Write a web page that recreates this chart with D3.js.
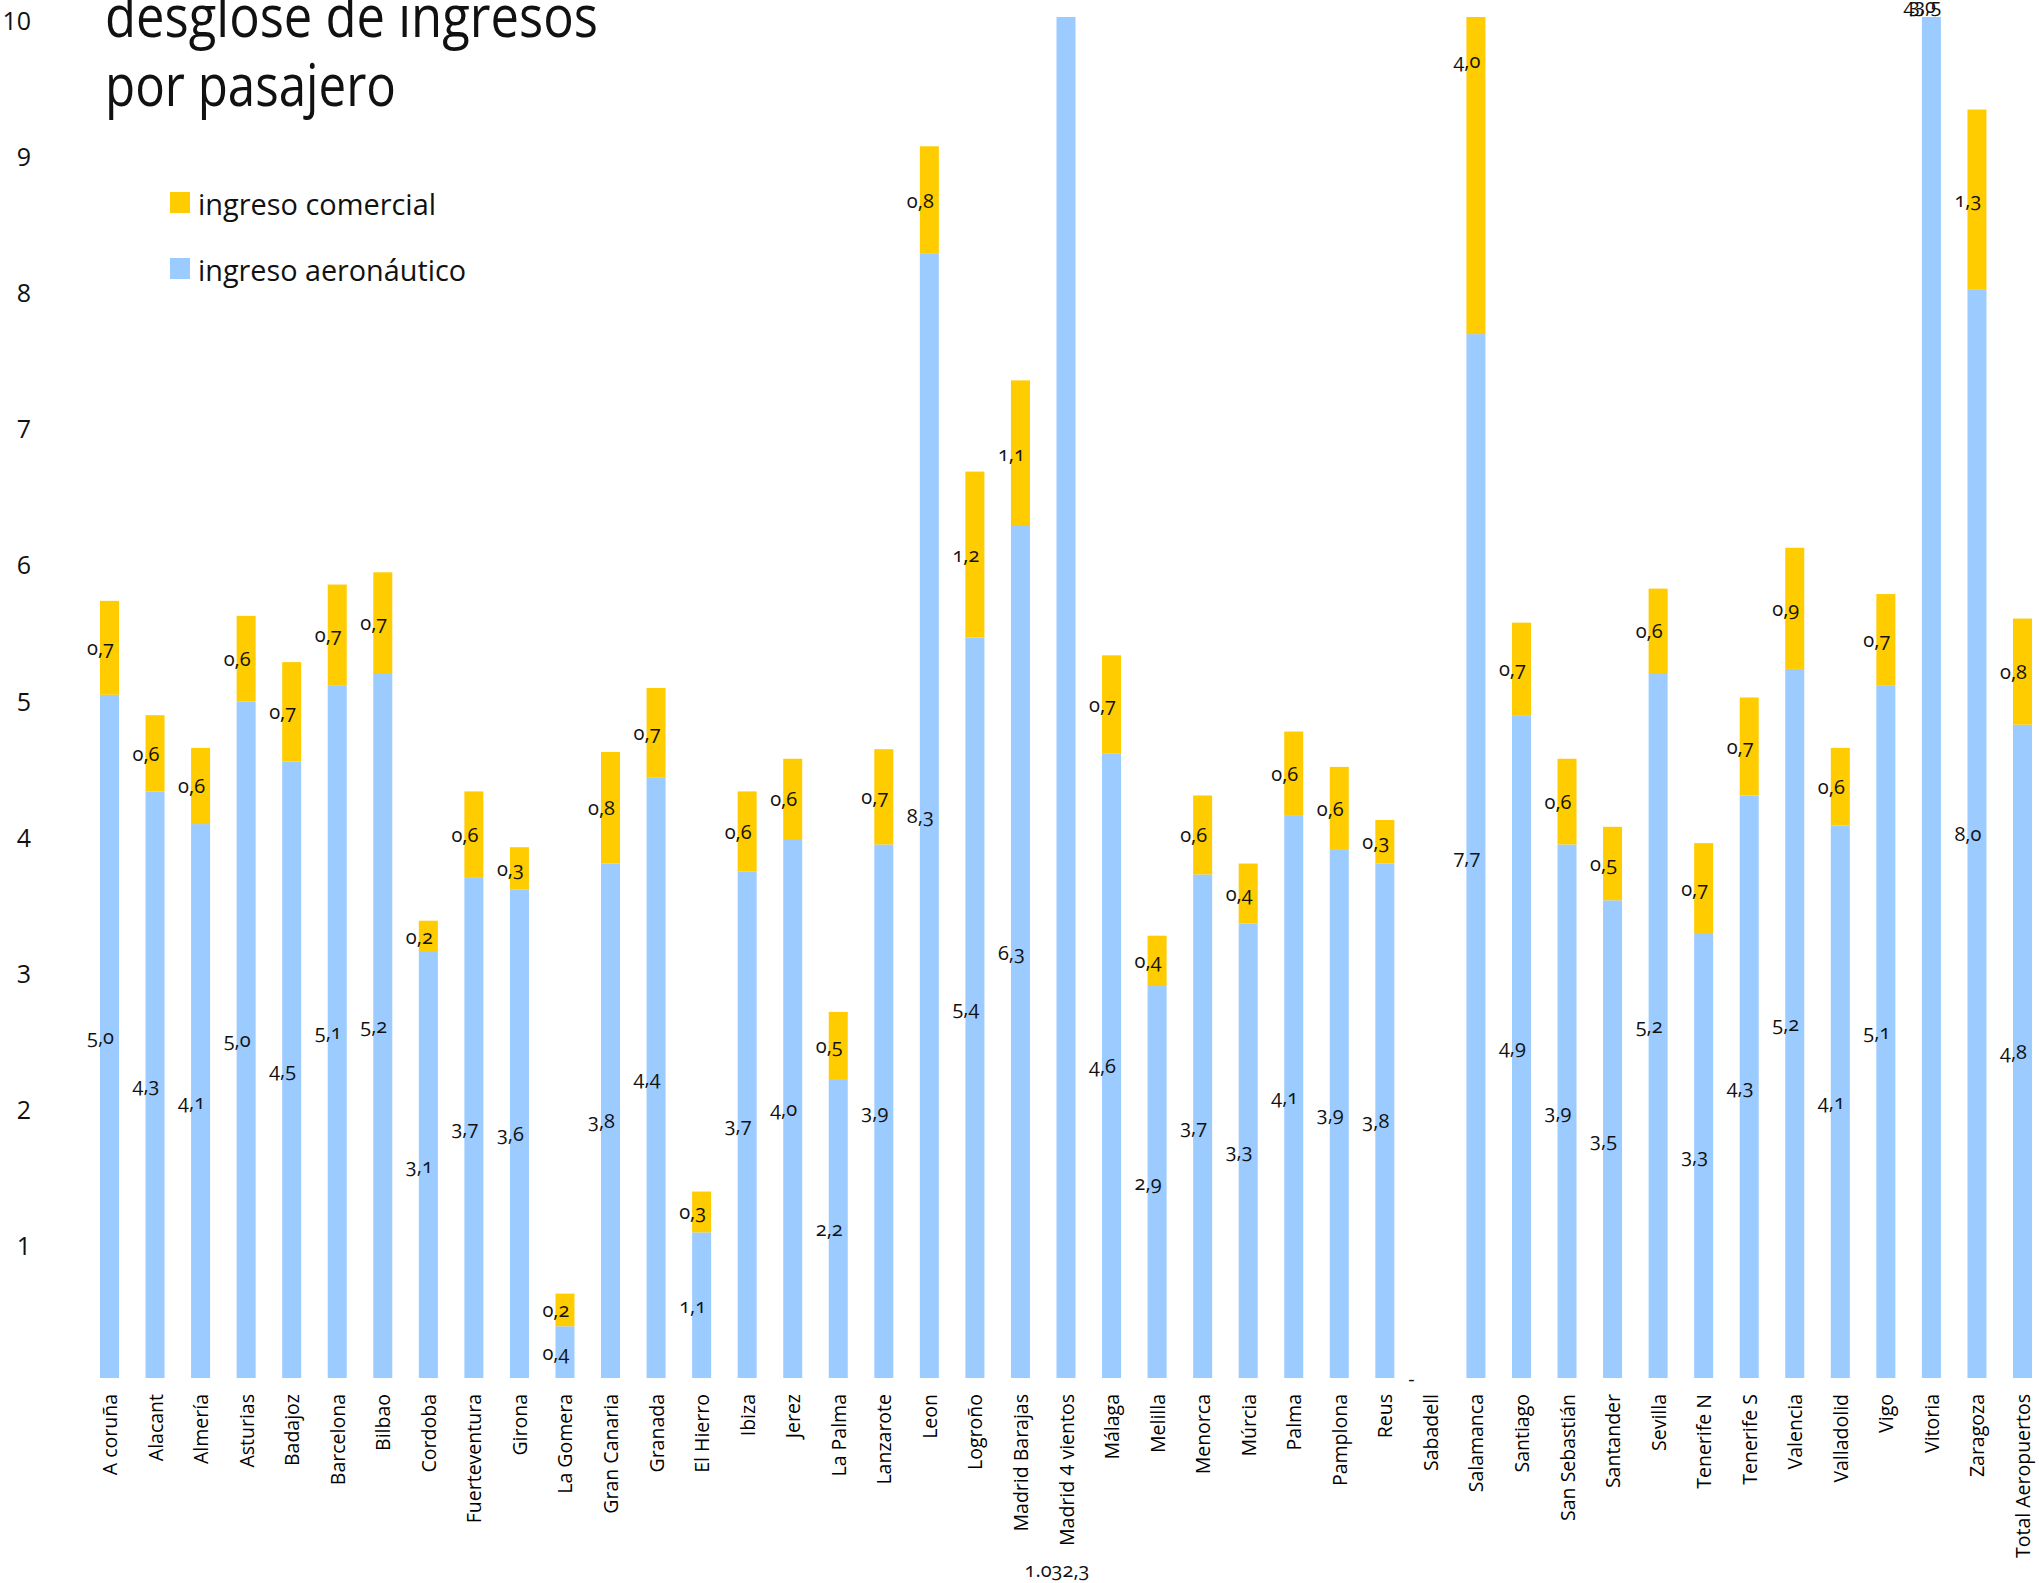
<!DOCTYPE html>
<html>
<head>
<meta charset="utf-8">
<script src="https://cdn.jsdelivr.net/npm/d3@7"></script>
<style>
  html, body { margin: 0; padding: 0; background: #fff; }
  svg { display: block; }
  .val { font-family: "Open Sans", sans-serif; font-variant-numeric: oldstyle-nums; font-feature-settings: "onum" 1; }
</style>
</head>
<body>
<svg id="chart" width="2039" height="1583"></svg>
<script>
const categories = ["A coruña","Alacant","Almería","Asturias","Badajoz","Barcelona","Bilbao","Cordoba","Fuerteventura","Girona","La Gomera","Gran Canaria","Granada","El Hierro","Ibiza","Jerez","La Palma","Lanzarote","Leon","Logroño","Madrid Barajas","Madrid 4 vientos","Málaga","Melilla","Menorca","Múrcia","Palma","Pamplona","Reus","Sabadell","Salamanca","Santiago","San Sebastián","Santander","Sevilla","Tenerife N","Tenerife S","Valencia","Valladolid","Vigo","Vitoria","Zaragoza","Total Aeropuertos"];

const ingresoAeronautico = [5.02,4.31,4.07,4.97,4.53,5.09,5.18,3.13,3.68,3.59,0.38,3.78,4.41,1.07,3.72,3.96,2.19,3.92,8.26,5.44,6.26,1032.3,4.59,2.88,3.70,3.34,4.13,3.88,3.78,0,7.67,4.87,3.92,3.51,5.18,3.27,4.28,5.21,4.06,5.09,43.5,8.00,4.80];

const ingresoComercial = [0.69,0.56,0.56,0.63,0.73,0.74,0.74,0.23,0.63,0.31,0.24,0.82,0.66,0.30,0.59,0.59,0.50,0.70,0.79,1.22,1.07,null,0.72,0.37,0.58,0.44,0.62,0.61,0.32,null,4.02,0.68,0.63,0.54,0.62,0.66,0.72,0.89,0.57,0.67,3.0,1.32,0.78];

const yTicks = [1,2,3,4,5,6,7,8,9,10];
const titleLines = ["desglose de ingresos", "por pasajero"];
const legendItems = [
  {key: "comercial", label: "ingreso comercial", color: "#FFCC00"},
  {key: "aeronautico", label: "ingreso aeronáutico", color: "#9CCBFF"}
];

const W = 2039, H = 1583;
const svg = d3.select("#chart");
svg.append("rect").attr("width", W).attr("height", H).attr("fill", "#fff");

const yMax = 10;
const y = d3.scaleLinear().domain([0, yMax]).range([1378, 17]);
const x = d3.scalePoint().domain(categories).range([109.5, 2022.5]).padding(0);
const barW = 19;

const locale = d3.formatLocale({decimal: ",", thousands: ".", grouping: [3], currency: ["", "€"]});
const fmt = locale.format(",.1f");
const fmtVal = v => v === 0 ? "-" : fmt(v);

const rows = categories.map((c, i) => ({
  cat: c,
  aero: ingresoAeronautico[i],
  com: ingresoComercial[i]
}));

// clip
svg.append("clipPath").attr("id", "plotClip")
  .append("rect").attr("x", 0).attr("y", y(yMax)).attr("width", W).attr("height", y(0) - y(yMax));

const bars = svg.append("g").attr("clip-path", "url(#plotClip)");
// aeronautical
bars.selectAll("rect.aero").data(rows).join("rect")
  .attr("class", "aero")
  .attr("x", d => x(d.cat) - barW / 2)
  .attr("width", barW)
  .attr("y", d => y(Math.min(d.aero, 1e4)))
  .attr("height", d => y(0) - y(Math.min(d.aero, 1e4)))
  .attr("fill", legendItems[1].color);
// commercial
bars.selectAll("rect.com").data(rows.filter(d => d.com != null)).join("rect")
  .attr("class", "com")
  .attr("x", d => x(d.cat) - barW / 2)
  .attr("width", barW)
  .attr("y", d => y(d.aero + d.com))
  .attr("height", d => y(d.aero) - y(d.aero + d.com))
  .attr("fill", legendItems[0].color);

// value labels
const labels = [];
rows.forEach(d => {
  labels.push({cat: d.cat, v: d.aero, mid: d.aero / 2});
  if (d.com != null) labels.push({cat: d.cat, v: d.com, mid: d.aero + d.com / 2});
});
function labelY(mid) {
  if (mid > 100) return y(0) + 191;     // far off-scale: pushed below the axis
  if (mid > yMax) return y(yMax) - 12;  // off-scale: clamped to the top edge
  return y(mid);
}
svg.append("g").selectAll("text").data(labels).join("text")
  .attr("class", "val")
  .attr("x", d => x(d.cat) - (d.v === 0 ? 19 : 9))
  .attr("y", d => labelY(d.mid))
  .attr("text-anchor", "middle")
  .attr("dominant-baseline", "central")
  .attr("font-size", 20)
  .attr("fill", "#111")
  .text(d => fmtVal(d.v));

// y axis
const yAxis = d3.axisLeft(y).tickValues(yTicks).tickSize(0).tickPadding(0).tickFormat(d3.format("d"));
const gy = svg.append("g").attr("transform", "translate(31,0)").call(yAxis);
gy.select(".domain").remove();
gy.selectAll("text")
  .attr("font-family", "'Open Sans', sans-serif")
  .attr("font-size", 25)
  .attr("fill", "#111")
  .attr("dy", "0.5em");

// category labels
svg.append("g").selectAll("text").data(categories).join("text")
  .attr("transform", d => `translate(${x(d)},1394) rotate(-90)`)
  .attr("text-anchor", "end")
  .attr("dominant-baseline", "central")
  .attr("font-family", "'Open Sans', sans-serif")
  .attr("font-size", 19.5)
  .attr("fill", "#000")
  .text(d => d);

// title
const titleWidths = [493, 291];
svg.append("g").selectAll("text").data(titleLines).join("text")
  .attr("x", 105)
  .attr("y", (d, i) => 37 + i * 69)
  .attr("font-family", "'Open Sans', sans-serif")
  .attr("font-size", 58)
  .attr("fill", "#111")
  .attr("textLength", (d, i) => titleWidths[i])
  .attr("lengthAdjust", "spacingAndGlyphs")
  .text(d => d);

// legend
const legendWidths = [238, 268];
const lg = svg.append("g").selectAll("g").data(legendItems).join("g")
  .attr("transform", (d, i) => `translate(170, ${192 + i * 66})`);
lg.append("rect").attr("width", 20).attr("height", 21).attr("fill", d => d.color);
lg.append("text")
  .attr("x", 28).attr("y", 11)
  .attr("dominant-baseline", "central")
  .attr("font-family", "'Open Sans', sans-serif")
  .attr("font-size", 29)
  .attr("fill", "#111")
  .attr("textLength", (d, i) => legendWidths[i])
  .attr("lengthAdjust", "spacingAndGlyphs")
  .text(d => d.label);
</script>
</body>
</html>
